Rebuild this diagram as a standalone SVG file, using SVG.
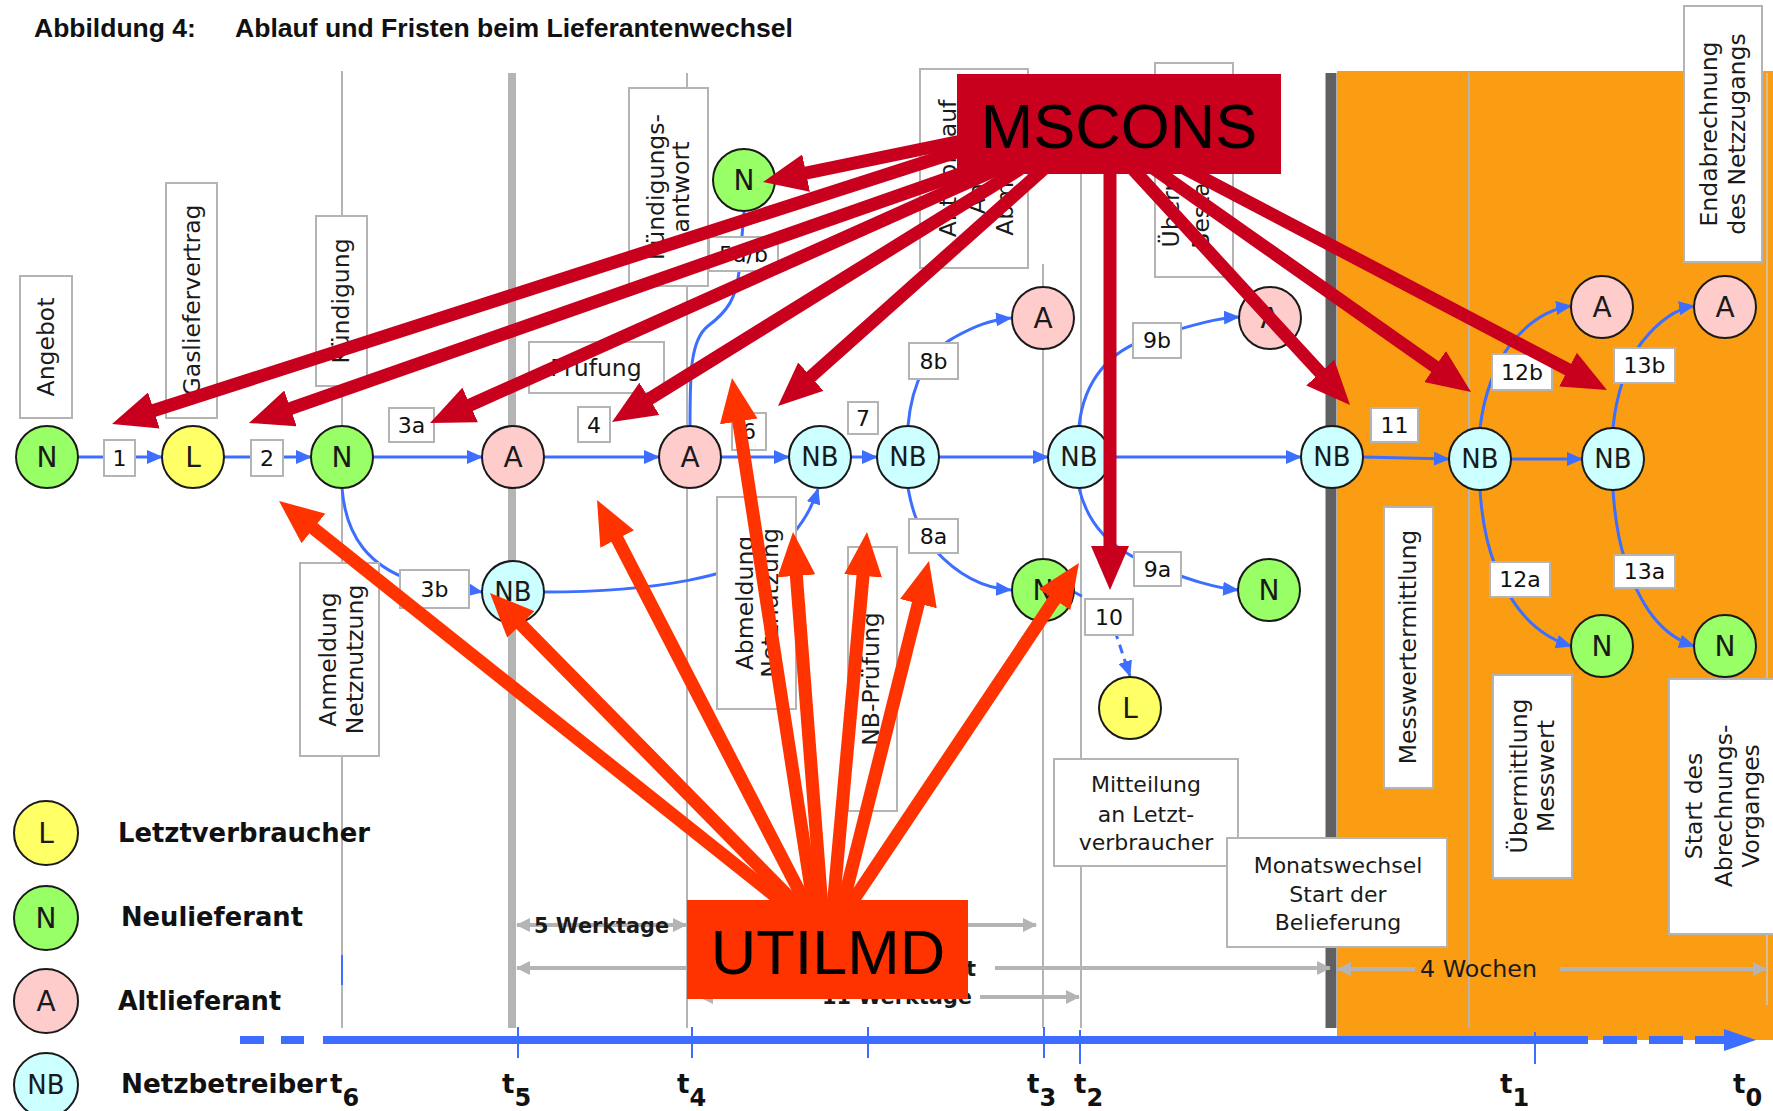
<svg xmlns="http://www.w3.org/2000/svg" width="1773" height="1111" viewBox="0 0 1773 1111">
<defs>
<style>
.vline{stroke:#B4B4B4;stroke-width:2;fill:none}
.box{fill:#fff;stroke:#B4B4B4;stroke-width:2}
.lbl{font-family:"DejaVu Sans",Verdana,sans-serif;font-size:23.5px;fill:#1a1a1a;text-anchor:middle}
.hl{font-family:"DejaVu Sans",Verdana,sans-serif;font-size:22px;fill:#1a1a1a;text-anchor:middle}
.elbl{font-family:"DejaVu Sans",Verdana,sans-serif;font-size:22px;fill:#111;text-anchor:middle}
.node{stroke:#1a1a1a;stroke-width:2}
.nN{fill:#99FF66}.nL{fill:#FFFF66}.nA{fill:#FFCCCC}.nB{fill:#CCFFFF}
.nt{font-family:"DejaVu Sans",Verdana,sans-serif;font-size:28px;fill:#1a1a1a;text-anchor:middle}
.nbt{font-family:"DejaVu Sans",Verdana,sans-serif;font-size:26px;fill:#1a1a1a;text-anchor:middle}
.flow{stroke:#3C6EFF;stroke-width:3;fill:none;marker-end:url(#flow-head)}
.ms{stroke:#C8001E;stroke-width:13;fill:none;marker-end:url(#ms-head)}
.ut{stroke:#FF3300;stroke-width:13;fill:none;marker-end:url(#ut-head)}
.dur{stroke:#B4B4B4;stroke-width:4;fill:none}
.dl{font-family:"DejaVu Sans",Verdana,sans-serif;font-weight:bold;font-size:21px;fill:#1a1a1a}
.legend{font-family:"DejaVu Sans",Verdana,sans-serif;font-weight:bold;font-size:26px;fill:#111}
.tl{font-family:"DejaVu Sans",Verdana,sans-serif;font-weight:bold;font-size:26px;fill:#111}
.tick{stroke:#3C6EFF;stroke-width:2}
.big{font-family:"Liberation Sans",Arial,sans-serif;font-size:63px;fill:#000;text-anchor:middle}
</style>
<marker id="flow-head" markerUnits="userSpaceOnUse" markerWidth="16" markerHeight="14" refX="15" refY="7" orient="auto"><path d="M0,0 L16,7 L0,14 z" fill="#3C6EFF"/></marker>
<marker id="ms-head" markerUnits="userSpaceOnUse" markerWidth="44" markerHeight="38" refX="14" refY="19" orient="auto"><path d="M0,0 L44,19 L0,38 z" fill="#C8001E"/></marker>
<marker id="ut-head" markerUnits="userSpaceOnUse" markerWidth="44" markerHeight="38" refX="14" refY="19" orient="auto"><path d="M0,0 L44,19 L0,38 z" fill="#FF3300"/></marker>
<marker id="gray-head" markerUnits="userSpaceOnUse" markerWidth="14" markerHeight="14" refX="13" refY="7" orient="auto-start-reverse"><path d="M0,0 L14,7 L0,14 z" fill="#B4B4B4"/></marker>
<marker id="time-head" markerUnits="userSpaceOnUse" markerWidth="32" markerHeight="22" refX="2" refY="11" orient="auto"><path d="M0,0 L32,11 L0,22 z" fill="#3C6EFF"/></marker>
</defs>

<rect x="0" y="0" width="1773" height="1111" fill="#fff"/>

<!-- title -->
<text x="34" y="37" font-family="Liberation Sans, Arial, sans-serif" font-weight="bold" font-size="26.5" fill="#111">Abbildung 4:</text>
<text x="235" y="37" font-family="Liberation Sans, Arial, sans-serif" font-weight="bold" font-size="26.5" fill="#111" textLength="558" lengthAdjust="spacingAndGlyphs">Ablauf und Fristen beim Lieferantenwechsel</text>

<!-- supply period after the month change -->
<rect x="1337" y="71" width="436" height="969" fill="#FA9D12"/>

<!-- time grid -->
<g id="grid">
<line class="vline" x1="342" y1="71" x2="342" y2="1028"/>
<line x1="512" y1="73" x2="512" y2="1028" stroke="#B4B4B4" stroke-width="8"/>
<line class="vline" x1="687" y1="73" x2="687" y2="1028"/>
<line class="vline" x1="1043" y1="264" x2="1043" y2="1028"/>
<line class="vline" x1="1081" y1="150" x2="1081" y2="1028"/>
<line class="vline" x1="1469" y1="73" x2="1469" y2="1028"/>
<line x1="1767" y1="73" x2="1767" y2="1005" stroke="#C8C8C8" stroke-width="1.5"/>
<line x1="1331" y1="73" x2="1331" y2="1028" stroke="#606060" stroke-width="11"/>
<line x1="342" y1="955" x2="342" y2="985" stroke="#3C6EFF" stroke-width="2"/>
</g>

<!-- time axis -->
<g id="timeline">
<path d="M240,1040 H343" stroke="#3C6EFF" stroke-width="8" stroke-dasharray="24 17 23 19 20" fill="none"/>
<path d="M343,1040 H1588" stroke="#3C6EFF" stroke-width="8" fill="none"/>
<path d="M1603,1040 H1726" stroke="#3C6EFF" stroke-width="8" stroke-dasharray="34 12" fill="none" marker-end="url(#time-head)"/>
<line class="tick" x1="518" y1="1027" x2="518" y2="1058"/>
<line class="tick" x1="692" y1="1027" x2="692" y2="1058"/>
<line class="tick" x1="868" y1="1027" x2="868" y2="1058"/>
<line class="tick" x1="1044" y1="1027" x2="1044" y2="1058"/>
<line class="tick" x1="1080" y1="1030" x2="1080" y2="1064"/>
<line class="tick" x1="1535" y1="1032" x2="1535" y2="1064"/>
<text class="tl" x="330" y="1093">t<tspan dy="13" font-size="24">6</tspan></text>
<text class="tl" x="502" y="1093">t<tspan dy="13" font-size="24">5</tspan></text>
<text class="tl" x="677" y="1093">t<tspan dy="13" font-size="24">4</tspan></text>
<text class="tl" x="1027" y="1093">t<tspan dy="13" font-size="24">3</tspan></text>
<text class="tl" x="1074" y="1093">t<tspan dy="13" font-size="24">2</tspan></text>
<text class="tl" x="1500" y="1093">t<tspan dy="13" font-size="24">1</tspan></text>
<text class="tl" x="1733" y="1093">t<tspan dy="13" font-size="24">0</tspan></text>
</g>

<!-- process flow -->
<g id="connectors">
<path class="flow" d="M78,457 H162"/>
<path class="flow" d="M224,457 H311"/>
<path class="flow" d="M373,457 H482"/>
<path class="flow" d="M544,457 H659"/>
<path class="flow" d="M721,457 H789"/>
<path class="flow" d="M851,457 H877"/>
<path class="flow" d="M939,457 H1048"/>
<path class="flow" d="M1110,457 H1301"/>
<path class="flow" d="M1363,457 L1449,459"/>
<path class="flow" d="M1511,459 H1582"/>
<path class="flow" d="M342,488 C346,540 372,566 410,580 L482,592"/>
<path class="flow" d="M544,592 C640,592 750,580 792,535 C805,520 813,505 818,489"/>
<path d="M690,426 C690,375 690,340 708,326 C728,311 736,298 739,272 L744,212" stroke="#3C6EFF" stroke-width="3" fill="none"/>
<path class="flow" d="M908,426 C912,380 930,350 955,337 C975,326 990,320 1011,318"/>
<path class="flow" d="M908,488 C912,510 918,530 935,550 C955,572 980,588 1011,590"/>
<path class="flow" d="M1079,426 C1084,380 1110,350 1150,338 C1190,326 1215,318 1239,317"/>
<path class="flow" d="M1079,488 C1088,525 1110,548 1150,565 C1190,580 1215,588 1238,590"/>
<path class="flow" d="M1074,592 L1108,610 L1130,676" stroke-dasharray="9 6"/>
<path class="flow" d="M1480,428 C1484,395 1495,365 1510,345 C1528,322 1548,309 1571,306"/>
<path class="flow" d="M1613,428 C1616,395 1627,362 1642,342 C1658,322 1674,309 1694,306"/>
<path class="flow" d="M1480,490 C1482,520 1487,545 1495,565 C1510,605 1535,635 1571,646"/>
<path class="flow" d="M1613,490 C1615,520 1620,545 1625,560 C1640,605 1660,635 1694,646"/>
</g>

<!-- market roles -->
<g id="n-N1"><circle class="node nN" cx="47" cy="457" r="31"/><text class="nt" x="47" y="467">N</text></g>
<g id="n-L1"><circle class="node nL" cx="193" cy="457" r="31"/><text class="nt" x="193" y="467">L</text></g>
<g id="n-N2"><circle class="node nN" cx="342" cy="457" r="31"/><text class="nt" x="342" y="467">N</text></g>
<g id="n-A1"><circle class="node nA" cx="513" cy="457" r="31"/><text class="nt" x="513" y="467">A</text></g>
<g id="n-NB0"><circle class="node nB" cx="513" cy="592" r="31"/><text class="nbt" x="513" y="601">NB</text></g>
<g id="n-A2"><circle class="node nA" cx="690" cy="457" r="31"/><text class="nt" x="690" y="467">A</text></g>
<g id="n-N3"><circle class="node nN" cx="744" cy="180" r="31"/><text class="nt" x="744" y="190">N</text></g>
<g id="n-NB1"><circle class="node nB" cx="820" cy="457" r="31"/><text class="nbt" x="820" y="466">NB</text></g>
<g id="n-NB2"><circle class="node nB" cx="908" cy="457" r="31"/><text class="nbt" x="908" y="466">NB</text></g>
<g id="n-A3"><circle class="node nA" cx="1043" cy="318" r="31"/><text class="nt" x="1043" y="328">A</text></g>
<g id="n-N4"><circle class="node nN" cx="1043" cy="590" r="31"/><text class="nt" x="1043" y="600">N</text></g>
<g id="n-NB3"><circle class="node nB" cx="1079" cy="457" r="31"/><text class="nbt" x="1079" y="466">NB</text></g>
<g id="n-A4"><circle class="node nA" cx="1270" cy="318" r="31"/><text class="nt" x="1270" y="328">A</text></g>
<g id="n-N5"><circle class="node nN" cx="1269" cy="590" r="31"/><text class="nt" x="1269" y="600">N</text></g>
<g id="n-L2"><circle class="node nL" cx="1130" cy="708" r="31"/><text class="nt" x="1130" y="718">L</text></g>
<g id="n-NB4"><circle class="node nB" cx="1332" cy="457" r="31"/><text class="nbt" x="1332" y="466">NB</text></g>
<g id="n-NB5"><circle class="node nB" cx="1480" cy="459" r="31"/><text class="nbt" x="1480" y="468">NB</text></g>
<g id="n-NB6"><circle class="node nB" cx="1613" cy="459" r="31"/><text class="nbt" x="1613" y="468">NB</text></g>
<g id="n-A5"><circle class="node nA" cx="1602" cy="307" r="31"/><text class="nt" x="1602" y="317">A</text></g>
<g id="n-A6"><circle class="node nA" cx="1725" cy="307" r="31"/><text class="nt" x="1725" y="317">A</text></g>
<g id="n-N6"><circle class="node nN" cx="1602" cy="646" r="31"/><text class="nt" x="1602" y="656">N</text></g>
<g id="n-N7"><circle class="node nN" cx="1725" cy="646" r="31"/><text class="nt" x="1725" y="656">N</text></g>

<!-- step numbers -->
<g id="steps">
<rect class="box" x="104" y="440" width="31" height="36"/><text class="elbl" x="119.5" y="466">1</text>
<rect class="box" x="251" y="440" width="32" height="36"/><text class="elbl" x="267" y="466">2</text>
<rect class="box" x="389" y="408" width="45" height="34"/><text class="elbl" x="411.5" y="433">3a</text>
<rect class="box" x="400" y="570" width="69" height="38"/><text class="elbl" x="434.5" y="597">3b</text>
<rect class="box" x="578" y="407" width="32" height="35"/><text class="elbl" x="594" y="433">4</text>
<rect class="box" x="709" y="237" width="69" height="34"/><text class="elbl" x="743.5" y="262">5a/b</text>
<rect class="box" x="732" y="413" width="34" height="37"/><text class="elbl" x="749" y="439">6</text>
<rect class="box" x="848" y="402" width="30" height="32"/><text class="elbl" x="863" y="426">7</text>
<rect class="box" x="909" y="343" width="49" height="36"/><text class="elbl" x="933.5" y="369">8b</text>
<rect class="box" x="909" y="519" width="49" height="34"/><text class="elbl" x="933.5" y="544">8a</text>
<rect class="box" x="1133" y="323" width="48" height="35"/><text class="elbl" x="1157" y="348">9b</text>
<rect class="box" x="1134" y="552" width="47" height="34"/><text class="elbl" x="1157.5" y="577">9a</text>
<rect class="box" x="1085" y="599" width="48" height="36"/><text class="elbl" x="1109" y="625">10</text>
<rect class="box" x="1371" y="408" width="47" height="34"/><text class="elbl" x="1394.5" y="433">11</text>
<rect class="box" x="1492" y="354" width="60" height="36"/><text class="elbl" x="1522" y="380">12b</text>
<rect class="box" x="1614" y="348" width="61" height="35"/><text class="elbl" x="1644.5" y="373">13b</text>
<rect class="box" x="1490" y="562" width="60" height="35"/><text class="elbl" x="1520" y="587">12a</text>
<rect class="box" x="1614" y="555" width="61" height="33"/><text class="elbl" x="1644.5" y="579">13a</text>
</g>

<!-- activity labels -->
<g id="lbl-angebot"><rect class="box" x="20" y="276" width="52" height="142"/><text class="lbl" transform="translate(46,347) rotate(-90)" y="8">Angebot</text></g>
<g id="lbl-vertrag"><rect class="box" x="166" y="183" width="51" height="235"/><text class="lbl" transform="translate(191.5,300) rotate(-90)" y="8.5">Gasliefervertrag</text></g>
<g id="lbl-kuendigung"><rect class="box" x="316" y="216" width="51" height="170"/><text class="lbl" transform="translate(341.5,301) rotate(-90)" y="7">Kündigung</text></g>
<g id="lbl-anmeldung"><rect class="box" x="300" y="563" width="79" height="193"/><text class="lbl" transform="translate(339.5,659.5) rotate(-90)"><tspan x="0" y="-3.5">Anmeldung</tspan><tspan x="0" y="23.5">Netznutzung</tspan></text></g>
<g id="lbl-pruefung"><rect class="box" x="529" y="342" width="135" height="51"/><text class="lbl" x="596" y="376">Prüfung</text></g>
<g id="lbl-kuendantwort"><rect class="box" x="629" y="88" width="79" height="198"/><text class="lbl" transform="translate(668.5,187) rotate(-90)"><tspan x="0" y="-4.5">Kündigungs-</tspan><tspan x="0" y="20.5">antwort</tspan></text></g>
<g id="lbl-antwort"><rect class="box" x="920" y="69" width="108" height="199"/><text class="lbl" transform="translate(974,168.5) rotate(-90)"><tspan x="0" y="-18">Antwort auf</tspan><tspan x="0" y="11">An- und</tspan><tspan x="0" y="39">Abmeldung</tspan></text></g>
<g id="lbl-abmeldung"><rect class="box" x="717" y="497" width="79" height="212"/><text class="lbl" transform="translate(756.5,603) rotate(-90)"><tspan x="0" y="-3.5">Abmeldung</tspan><tspan x="0" y="21.5">Netznutzung</tspan></text></g>
<g id="lbl-nbpruefung"><rect class="box" x="848" y="547" width="49" height="264"/><text class="lbl" transform="translate(872.5,679) rotate(-90)" y="6.5">NB-Prüfung</text></g>
<g id="lbl-bestand"><rect class="box" x="1155" y="63" width="78" height="214"/><text class="lbl" transform="translate(1194,170) rotate(-90)"><tspan x="0" y="-15">Übermittlung</tspan><tspan x="0" y="15">Bestandsliste</tspan></text></g>
<g id="lbl-mitteilung"><rect class="box" x="1054" y="759" width="184" height="107"/><text class="hl"><tspan x="1146" y="792">Mitteilung</tspan><tspan x="1146" y="822">an Letzt-</tspan><tspan x="1146" y="850">verbraucher</tspan></text></g>
<g id="lbl-monat"><rect class="box" x="1227" y="838" width="220" height="109"/><text class="hl"><tspan x="1338" y="873">Monatswechsel</tspan><tspan x="1338" y="902">Start der</tspan><tspan x="1338" y="930">Belieferung</tspan></text></g>
<g id="lbl-messwert"><rect class="box" x="1384" y="507" width="49" height="281"/><text class="lbl" transform="translate(1408.5,647) rotate(-90)" y="7.5">Messwertermittlung</text></g>
<g id="lbl-uebermittlung"><rect class="box" x="1493" y="675" width="79" height="203"/><text class="lbl" transform="translate(1532.5,776) rotate(-90)"><tspan x="0" y="-5.5">Übermittlung</tspan><tspan x="0" y="21.5">Messwert</tspan></text></g>
<g id="lbl-abrechnung"><rect class="box" x="1669" y="679" width="110" height="255"/><text class="lbl" transform="translate(1721,806) rotate(-90)"><tspan x="0" y="-19">Start des</tspan><tspan x="0" y="11">Abrechnungs-</tspan><tspan x="0" y="38">Vorganges</tspan></text></g>
<g id="lbl-endabrechnung"><rect class="box" x="1684" y="6" width="78" height="256"/><text class="lbl" transform="translate(1723,134) rotate(-90)"><tspan x="0" y="-6">Endabrechnung</tspan><tspan x="0" y="22">des Netzzugangs</tspan></text></g>

<!-- deadlines -->
<g id="deadlines">
<path class="dur" d="M517,925 H686" marker-start="url(#gray-head)" marker-end="url(#gray-head)"/>
<text class="dl" x="534" y="933" textLength="135" lengthAdjust="spacingAndGlyphs">5 Werktage</text>
<path class="dur" d="M692,925 H1036" marker-end="url(#gray-head)"/>
<path class="dur" d="M517,968 H700" marker-start="url(#gray-head)"/>
<path class="dur" d="M995,968 H1330" marker-end="url(#gray-head)"/>
<text class="dl" x="976" y="976" text-anchor="end">1 Monat</text>
<path class="dur" d="M700,997 H815" marker-start="url(#gray-head)"/>
<path class="dur" d="M980,997 H1079" marker-end="url(#gray-head)"/>
<text class="dl" x="822" y="1004" textLength="150" lengthAdjust="spacingAndGlyphs">11 Werktage</text>
<path class="dur" d="M1338,969 H1415" marker-start="url(#gray-head)"/>
<path class="dur" d="M1560,969 H1766" marker-end="url(#gray-head)"/>
<text x="1420" y="977" font-family="DejaVu Sans, Verdana, sans-serif" font-size="23" fill="#1a1a1a" textLength="117" lengthAdjust="spacingAndGlyphs">4 Wochen</text>
</g>

<!-- legend -->
<g id="legend">
<g id="leg-L"><circle class="node nL" cx="46" cy="833" r="32"/><text class="nt" x="46" y="843">L</text><text class="legend" x="118" y="842" textLength="252" lengthAdjust="spacingAndGlyphs">Letztverbraucher</text></g>
<g id="leg-N"><circle class="node nN" cx="46" cy="918" r="32"/><text class="nt" x="46" y="928">N</text><text class="legend" x="121" y="926" textLength="182" lengthAdjust="spacingAndGlyphs">Neulieferant</text></g>
<g id="leg-A"><circle class="node nA" cx="46" cy="1001" r="32"/><text class="nt" x="46" y="1011">A</text><text class="legend" x="118" y="1010" textLength="163" lengthAdjust="spacingAndGlyphs">Altlieferant</text></g>
<g id="leg-NB"><circle class="node nB" cx="46" cy="1085" r="32"/><text class="nbt" x="46" y="1094">NB</text><text class="legend" x="121" y="1093" textLength="206" lengthAdjust="spacingAndGlyphs">Netzbetreiber</text></g>
</g>

<!-- message types -->
<g id="msg-connectors">
<path class="ms" d="M1000,133 L792.4,175.9"/>
<path class="ms" d="M1000,138 L140.6,414.8"/>
<path class="ms" d="M1000,160 L277.3,413.1"/>
<path class="ms" d="M1000,168 L457.4,410.7"/>
<path class="ms" d="M1020,169 L637.5,406.2"/>
<path class="ms" d="M1045,168 L800.4,386"/>
<path class="ms" d="M1110,170 L1110,560"/>
<path class="ms" d="M1130,166 L1329.7,382.9"/>
<path class="ms" d="M1150,166 L1446.5,374.7"/>
<path class="ms" d="M1180,166 L1580.4,376.1"/>
<path class="ut" d="M790,908 L302.5,519.7"/>
<path class="ut" d="M800,908 L511,614.4"/>
<path class="ut" d="M808,908 L610.8,526.6"/>
<path class="ut" d="M814,908 L736.6,407.6"/>
<path class="ut" d="M822,908 L795.3,561.9"/>
<path class="ut" d="M833,908 L864.3,561.9"/>
<path class="ut" d="M842,908 L921.7,590.1"/>
<path class="ut" d="M848,908 L1062.3,587.9"/>
</g>
<g id="msg-mscons"><rect x="957" y="74" width="324" height="100" fill="#C8001E"/><text class="big" x="1119" y="148">MSCONS</text></g>
<g id="msg-utilmd"><rect x="687" y="900" width="281" height="99" fill="#FF3300"/><text class="big" x="828" y="974">UTILMD</text></g>
</svg>
